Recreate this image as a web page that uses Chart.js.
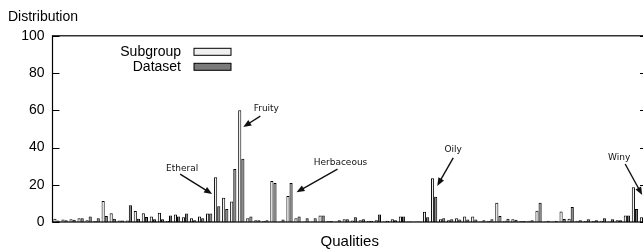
<!DOCTYPE html>
<html>
<head>
<meta charset="utf-8">
<script src="https://cdn.jsdelivr.net/npm/chart.js@4/dist/chart.umd.min.js"></script>
<style>
  html, body { margin: 0; padding: 0; background: #fff; overflow: hidden; }
  #wrap { width: 660px; height: 251px; }
</style>
</head>
<body>
<div id="wrap"><canvas id="qualChart" width="660" height="251"></canvas></div>
<script>
// Quality categories (only a few are named in the figure)
const qualities = Array.from({ length: 74 }, (_, i) => 'Q' + (i + 1));

// Distribution values (%)
const subgroup = [
    1.8, 1.4, 1.5, 2, 1, 0.5, 11.3, 4.7, 0.8, 0.8,
    5.9, 4.7, 3, 5, 0.5, 4, 2.5, 2, 3, 4.5,
    24, 13, 11, 60, 2, 1, 0.5, 22, 0.3, 14,
    2, 0.3, 0.3, 3.5, 0.5, 0.3, 1.5, 0.8, 1, 0.5,
    1, 0.3, 1.5, 3, 0.3, 0.3, 5.5, 23.5, 1.5, 1,
    2, 3, 3, 0.3, 0.5, 10.3, 0.7, 1.5, 0.5, 0.7,
    6, 0.3, 0.3, 5.7, 1.8, 0.7, 0.5, 0.5, 0.7, 0.3,
    1, 3.5, 18.7, 2.5
];
const dataset = [
    0.8, 1, 1.2, 2, 3, 2, 3.2, 1.8, 0.8, 9,
    1.8, 2.7, 1.5, 1.5, 3.5, 3, 4.5, 1, 2, 4.5,
    8.5, 7, 28.5, 34, 3, 1, 1, 21, 1.3, 21,
    3, 2, 2, 3.5, 0.5, 1, 1.5, 2.5, 1.5, 0.5,
    4, 0.7, 1, 3, 0.3, 0.3, 2.5, 13.5, 2, 1.5,
    1.3, 1.3, 1.3, 1, 1.5, 3.2, 1.8, 1.2, 0.5, 1,
    10.4, 0.7, 0.7, 1.6, 8, 1, 1.5, 1, 2, 1.5,
    1, 3.5, 7, 14
];

// Y axis ticks
const yTicks = [0, 20, 40, 60, 80, 100];

// Annotated qualities: arrow tip in data units, text/line start as pixel offsets
const notes = [
    { text: 'Etheral',    cat: 19.37, val: 15,   tx: -30, ty: -25, sx: -32, sy: -20 },
    { text: 'Fruity',     cat: 23.25, val: 51,   tx: 23,  ty: -18, sx: 17,  sy: -11 },
    { text: 'Herbaceous', cat: 29.87, val: 16,   tx: 44,  ty: -30, sx: 41,  sy: -23 },
    { text: 'Oily',       cat: 47.39, val: 19.4, tx: 16,  ty: -36, sx: 16,  sy: -28 },
    { text: 'Winy',       cat: 72.9,  val: 14.5, tx: -23, ty: -37, sx: -17, sy: -31 }
];

const sansFont = '"Liberation Sans", Arial, Helvetica, sans-serif';

// Frame, inward ticks, legend and arrows
const decorPlugin = {
    id: 'decor',
    afterDatasetsDraw(chart) {
        const ctx = chart.ctx;
        const a = chart.chartArea;
        const y = chart.scales.y;
        const x = chart.scales.x;
        ctx.save();
        ctx.strokeStyle = '#000';
        ctx.lineWidth = 1.2;
        ctx.strokeRect(a.left, a.top, a.right - a.left, a.bottom - a.top);
        ctx.lineWidth = 1;
        yTicks.forEach(v => {
            const py = Math.round(y.getPixelForValue(v)) + 0.5;
            ctx.beginPath();
            ctx.moveTo(a.left, py); ctx.lineTo(a.left + 7, py);
            ctx.moveTo(a.right, py); ctx.lineTo(a.right - 7, py);
            ctx.stroke();
        });

        // Legend: text on the left, swatch on the right
        ctx.font = '14px ' + sansFont;
        ctx.textAlign = 'right';
        ctx.textBaseline = 'middle';
        chart.data.datasets.forEach((ds, i) => {
            const cy = a.top + 16 + i * 15;
            ctx.fillStyle = '#000';
            ctx.fillText(ds.label, a.left + 128.5, cy);
            ctx.fillStyle = ds.backgroundColor;
            ctx.fillRect(a.left + 141.5, cy - 3.5, 37, 7);
            ctx.strokeStyle = '#000';
            ctx.lineWidth = 1;
            ctx.strokeRect(a.left + 141.5, cy - 3.5, 37, 7);
        });

        // Arrows with labels
        ctx.font = '9px "DejaVu Sans", sans-serif';
        ctx.textAlign = 'center';
        notes.forEach(n => {
            const px = x.getPixelForValue(n.cat);
            const py = y.getPixelForValue(n.val);
            ctx.fillStyle = '#111';
            ctx.fillText(n.text, px + n.tx, py + n.ty);
            const ang = Math.atan2(-n.sy, -n.sx);
            ctx.strokeStyle = '#111';
            ctx.lineWidth = 1.4;
            ctx.beginPath();
            ctx.moveTo(px + n.sx, py + n.sy);
            ctx.lineTo(px - 6 * Math.cos(ang), py - 6 * Math.sin(ang));
            ctx.stroke();
            ctx.beginPath();
            ctx.moveTo(px, py);
            ctx.lineTo(px - 8 * Math.cos(ang) + 3.2 * Math.sin(ang), py - 8 * Math.sin(ang) - 3.2 * Math.cos(ang));
            ctx.lineTo(px - 8 * Math.cos(ang) - 3.2 * Math.sin(ang), py - 8 * Math.sin(ang) + 3.2 * Math.cos(ang));
            ctx.closePath();
            ctx.fill();
        });
        ctx.restore();
    }
};

const ctx = document.getElementById('qualChart').getContext('2d');
const qualChart = new Chart(ctx, {
    type: 'bar',
    data: {
        labels: qualities,
        datasets: [{
            label: 'Subgroup',
            data: subgroup,
            backgroundColor: '#f0f0f0',
            borderColor: '#000',
            borderWidth: 1,
            categoryPercentage: 0.78,
            barPercentage: 1.0
        }, {
            label: 'Dataset',
            data: dataset,
            backgroundColor: '#7a7a7a',
            borderColor: '#000',
            borderWidth: 1,
            categoryPercentage: 0.78,
            barPercentage: 1.0
        }]
    },
    options: {
        responsive: false,
        animation: false,
        devicePixelRatio: 1,
        layout: { padding: { left: 8, right: 13, top: 0, bottom: 0 } },
        plugins: {
            legend: { display: false },
            tooltip: { enabled: false },
            title: {
                display: true,
                text: 'Distribution',
                align: 'start',
                color: '#000',
                font: { family: sansFont, size: 14, weight: 'normal' },
                padding: { top: 9, bottom: 10 }
            }
        },
        scales: {
            x: {
                grid: { display: false, drawTicks: false },
                border: { display: false },
                ticks: { display: false },
                title: {
                    display: true,
                    text: 'Qualities',
                    color: '#000',
                    font: { family: sansFont, size: 15 },
                    padding: { top: 0, bottom: 0 }
                },
                afterFit: s => { s.height = 29; }
            },
            y: {
                min: 0,
                max: 100,
                afterBuildTicks: s => { s.ticks = yTicks.map(v => ({ value: v })); },
                ticks: { color: '#000', padding: 8, font: { family: sansFont, size: 14 } },
                grid: { display: false, drawTicks: false },
                border: { display: false },
                afterFit: s => { s.width = 44.5; }
            }
        }
    },
    plugins: [decorPlugin]
});
</script>
</body>
</html>
